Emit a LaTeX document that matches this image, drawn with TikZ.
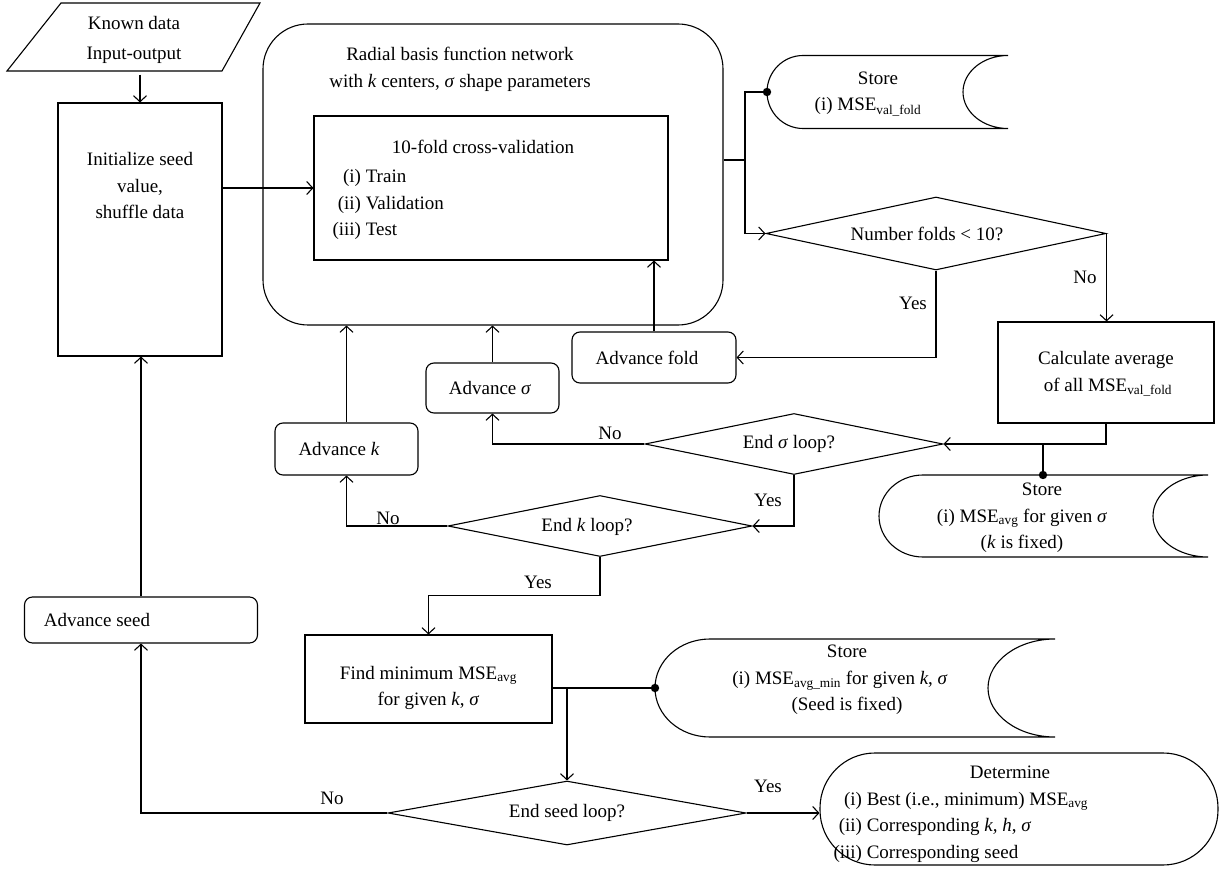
\documentclass[tikz,border=0pt]{standalone}
\usepackage{fontspec}
\setmainfont{Liberation Serif}
\usetikzlibrary{arrows.meta,shapes.geometric}
\begin{document}
\begin{tikzpicture}[x=1pt,y=-1pt, line width=1.1pt,
  arr/.style={-{Straight Barb[length=6pt,width=13pt]}},
  box/.style={draw, rectangle, inner sep=0pt},
  rbox/.style={draw, rectangle, rounded corners=8pt, inner sep=0pt},
  dia/.style={draw, diamond, inner sep=0pt, aspect=5},
  txt/.style={inner sep=0pt, align=center},
  lbl/.style={inner sep=0pt},
  dotc/.style={fill, radius=4.2pt},
  font=\fontsize{19}{26.5}\selectfont]
\useasboundingbox (0,0) rectangle (1221,877);
\fill[white] (0,0) rectangle (1221,877);

% Known data (parallelogram)
\draw (61,3) -- (260,3) -- (222,71) -- (7,71) -- cycle;
\node[txt, minimum height=68pt] (known) at (134,40) {Known data\\[4pt]Input-output};

% Initialize
\node[box, minimum width=164pt, minimum height=253pt] (init) at (140,229.5) {};
\node[txt] (inittxt) at (140,186) {Initialize seed\\value,\\shuffle data};
\draw[arr] (known.south -| init.north) -- (init.north);

% RBF network big box
\node[draw, rounded corners=45pt, minimum width=460pt, minimum height=301pt, inner sep=0pt] (rbf) at (493,174.5) {};
\node[txt] (rbftitle) at (460,69.5) {Radial basis function network\\with \textit{k} centers, \textit{σ} shape parameters};

% cross-validation box
\node[box, minimum width=354pt, minimum height=144pt] (cv) at (491,188) {};
\node[txt] (cvtitle) at (483,147) {10-fold cross-validation};
\node[lbl, anchor=west] (cvlist) at (332,204) {\begin{tabular}{@{}r@{\ }l@{}}(i) & Train\\ (ii) & Validation\\ (iii) & Test\end{tabular}};
\draw[arr] (init.east |- cv.west) -- (cv.west);

% Store 1
\draw (803,55.5) -- (1008,55.5) arc[start angle=90,end angle=270,x radius=45pt,y radius=36.5pt]
  -- (803,128.5) arc[start angle=270,end angle=90,x radius=36pt,y radius=36.5pt] -- cycle;
\coordinate (s1) at (767,92);
\node[txt] (s1txt) at (868,94) {\makebox[0pt]{\hspace*{20pt}Store}\\(i) MSE\textsubscript{val\_fold}};

% Number folds diamond
\node[dia, minimum width=340pt, minimum height=73pt] (nf) at (936,233.5) {};
\node[lbl] (nftxt) at (927,233.5) {Number folds < 10?};
\coordinate (j1) at (745,160);
\draw (rbf.east |- j1) -- (j1);
\draw (j1) |- (s1);
\fill[dotc] (s1) circle[radius=4.2pt];
\draw[arr] (j1) |- (nf.west);

% Calculate average
\node[box, minimum width=216pt, minimum height=101pt] (calc) at (1106,372.5) {};
\node[txt] (calctxt) at (1106,374) {Calculate average\\\hspace*{4pt}of all MSE\textsubscript{val\_fold}};
\draw[arr] (nf.east) -- (nf.east |- calc.north);
\node[lbl] (no1) at (1085,277) {No};

% Advance fold
\node[rbox, minimum width=164pt, minimum height=51pt] (fold) at (654,357.5) {};
\node[lbl] (foldtxt) at (647,357.5) {Advance fold};
\draw[arr] (nf.south) |- (fold.east);
\node[lbl] (yes1) at (913,303) {Yes};
\draw[arr] (fold.north) -- (fold.north |- cv.south);

% End sigma loop
\node[dia, minimum width=298pt, minimum height=61pt] (esig) at (794,444) {};
\node[lbl] (esigtxt) at (789,444) {End \textit{σ} loop?};
\draw[arr] (calc.south) |- (esig.east);

% Store 2
\draw (923,475) -- (1208,475) arc[start angle=90,end angle=270,x radius=55pt,y radius=41pt]
  -- (923,557) arc[start angle=270,end angle=90,x radius=44pt,y radius=41pt] -- cycle;
\coordinate (s2) at (1043,475);
\draw (s2) -- (s2 |- esig.east);
\fill[dotc] (s2) circle[radius=4.2pt];
\node[txt] (s2txt) at (1022,518) {\hspace*{40pt}Store\\(i) MSE\textsubscript{avg} for given \textit{σ}\\(\textit{k} is fixed)};

% Advance sigma
\node[rbox, minimum width=133pt, minimum height=50pt] (asig) at (492.5,388) {};
\node[lbl] (asigtxt) at (490,388) {Advance \textit{σ}};
\draw[arr] (esig.west) -| (asig.south);
\node[lbl] (no2) at (610,433) {No};
\draw[arr] (asig.north) -- (asig.north |- rbf.south);

% End k loop
\node[dia, minimum width=304pt, minimum height=61pt] (ek) at (600,526) {};
\node[lbl] (ektxt) at (587,527) {End \textit{k} loop?};
\draw[arr] (esig.south) |- (ek.east);
\node[lbl] (yes2) at (768,500) {Yes};

% Advance k
\node[rbox, minimum width=143pt, minimum height=52pt] (ak) at (346.5,449) {};
\node[lbl] (aktxt) at (339,449) {Advance \textit{k}};
\draw[arr] (ek.west) -| (ak.south);
\node[lbl] (no3) at (388,518) {No};
\draw[arr] (ak.north) -- (ak.north |- rbf.south);

% Find minimum
\node[box, minimum width=247pt, minimum height=88pt] (find) at (428.5,679) {};
\node[txt] (findtxt) at (428.5,688) {Find minimum MSE\textsubscript{avg}\\for given \textit{k}, \textit{σ}};
\draw[arr] (ek.south) -- ++(0,38) -| (find.north);
\node[lbl] (yes3) at (538,582) {Yes};

% Store 3
\draw (710,639) -- (1055,639) arc[start angle=90,end angle=270,x radius=67pt,y radius=49pt]
  -- (710,737) arc[start angle=270,end angle=90,x radius=55pt,y radius=49pt] -- cycle;
\coordinate (s3) at (655,688);
\draw (find.east |- s3) -- (s3);
\fill[dotc] (s3) circle[radius=4.2pt];
\node[txt] (s3txt) at (840,680) {\hspace*{14pt}Store\\(i) MSE\textsubscript{avg\_min} for given \textit{k}, \textit{σ}\\\hspace*{14pt}(Seed is fixed)};

% End seed loop
\node[dia, minimum width=358pt, minimum height=64pt] (eseed) at (567,813) {};
\node[lbl] (eseedtxt) at (567,813) {End seed loop?};
\coordinate (j4) at (567,688);
\draw[arr] (j4) -- (eseed.north);

% Determine
\node[draw, rounded corners=55pt, minimum width=398pt, minimum height=112pt, inner sep=0pt] (det) at (1019,809) {};
\node[txt] (dettitle) at (1010,772) {Determine};
\node[lbl, anchor=west] (detlist) at (833,826.5) {\begin{tabular}{@{}r@{\ }l@{}}(i) & Best (i.e., minimum) MSE\textsubscript{avg}\\ (ii) & Corresponding \textit{k, h}, \textit{σ}\\ (iii) & Corresponding seed\end{tabular}};
\draw[arr] (eseed.east) -- (eseed.east -| det.west);
\node[lbl] (yes4) at (768,786) {Yes};

% Advance seed
\node[rbox, minimum width=233pt, minimum height=46pt] (aseed) at (141,620) {};
\node[lbl] (aseedtxt) at (97,620) {Advance seed};
\draw[arr] (eseed.west) -| (aseed.south);
\node[lbl] (no4) at (332,798) {No};
\draw[arr] (aseed.north) -- (aseed.north |- init.south);
\end{tikzpicture}
\end{document}
